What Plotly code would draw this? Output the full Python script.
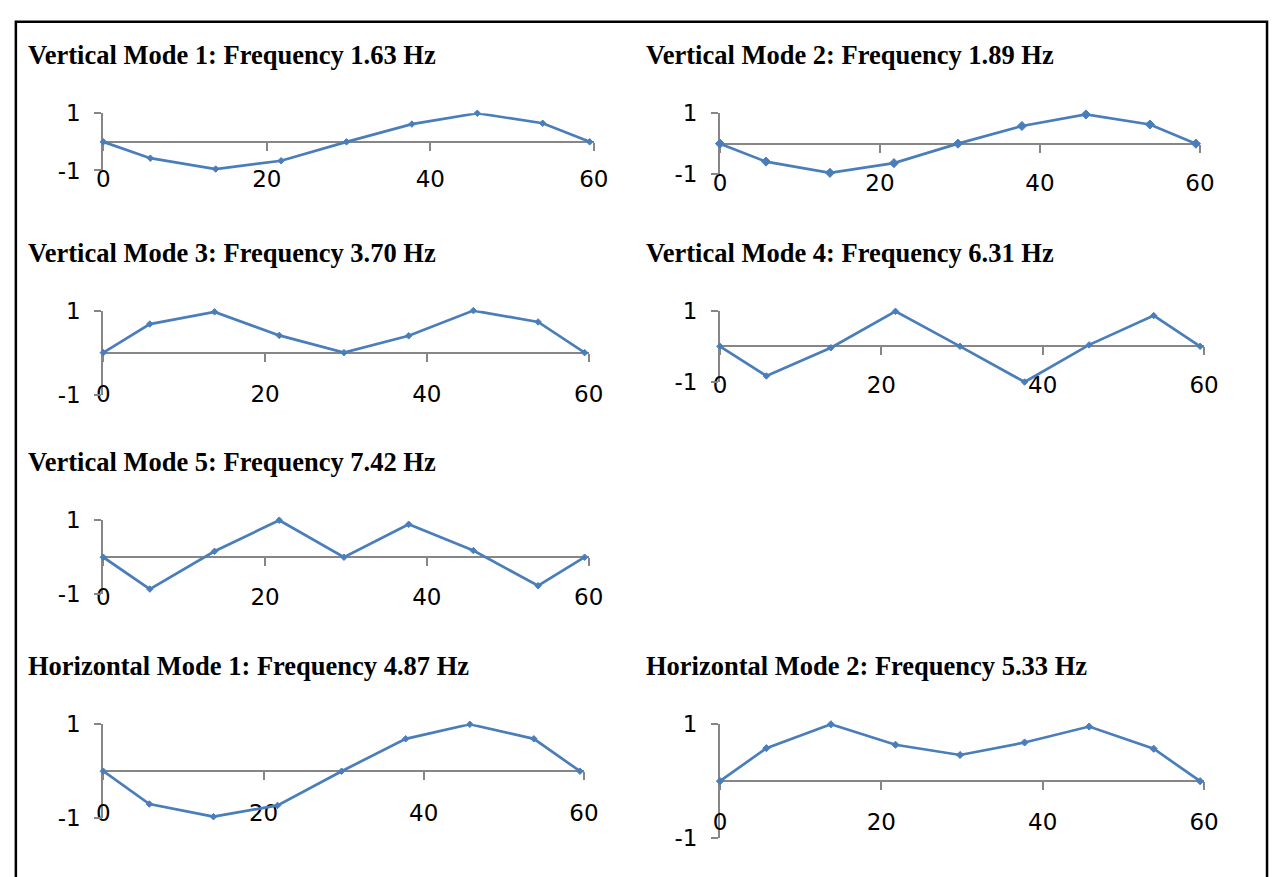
import plotly.graph_objects as go

# ---------------- data ----------------
positions_m = [0, 5.75, 13.75, 21.75, 29.75, 37.75, 45.75, 53.75, 59.5]

titles = [
    "Vertical Mode 1: Frequency 1.63 Hz",
    "Vertical Mode 2: Frequency 1.89 Hz",
    "Vertical Mode 3: Frequency 3.70 Hz",
    "Vertical Mode 4: Frequency 6.31 Hz",
    "Vertical Mode 5: Frequency 7.42 Hz",
    "Horizontal Mode 1: Frequency 4.87 Hz",
    "Horizontal Mode 2: Frequency 5.33 Hz",
]

vertical_mode_1 = [0, -0.57, -0.95, -0.66, 0, 0.62, 1.0, 0.65, 0]
vertical_mode_2 = [0, -0.59, -0.96, -0.64, 0, 0.58, 0.96, 0.63, 0]
vertical_mode_3 = [0, 0.68, 0.97, 0.41, 0, 0.40, 1.0, 0.73, 0]
vertical_mode_4 = [0, -0.83, -0.04, 0.98, 0, -1.0, 0.04, 0.86, 0]
vertical_mode_5 = [0, -0.86, 0.16, 1.0, 0, 0.89, 0.18, -0.77, 0]
horizontal_mode_1 = [0, -0.70, -0.97, -0.73, 0, 0.69, 1.0, 0.69, 0]
horizontal_mode_2 = [0, 0.58, 1.0, 0.64, 0.46, 0.68, 0.96, 0.57, 0]

modes = [vertical_mode_1, vertical_mode_2, vertical_mode_3, vertical_mode_4,
         vertical_mode_5, horizontal_mode_1, horizontal_mode_2]

x_ticks = [0, 20, 40, 60]
y_ticks = [-1, 1]
y_tick_labels = ["-1", "1"]

# ---------------- layout (pixel boxes on a 1284x877 canvas) ----------------
W, H = 1284, 877
# (x at 0, x at 60, y at +1, y at -1, x-label centre, title x, title y, marker size)
boxes = [
    (98, 597, 103.3, 162.3, 173, 19, 43, 5),
    (725.4, 1213.7, 103.3, 166, 176.7, 648, 43, 7),
    (98, 591.8, 306.7, 393.3, 393.3, 19, 247, 5),
    (725.4, 1218, 306.7, 380.3, 384, 648, 247, 5),
    (98, 591.8, 522.7, 599, 603, 19, 463, 5),
    (98, 587, 733, 829.7, 825, 19, 673, 5),
    (725.4, 1218, 733, 850.3, 834.3, 648, 673, 5.5),
]

BLUE = "#4A7EBB"
GRAY = "#868686"
TICK_FONT = dict(family="DejaVu Sans, sans-serif", size=23, color="black")
TITLE_FONT = dict(family="Liberation Serif, Times New Roman, serif", size=26.5, color="black")
XTICKLEN = 8
YTICKLEN = 7

fig = go.Figure()
annotations = []
layout_axes = {}

for i, (vals, box, title) in enumerate(zip(modes, boxes, titles), start=1):
    x0, x1, ytop, ybot, lab_c, tx, ty, msize = box
    sfx = "" if i == 1 else str(i)
    fig.add_trace(go.Scatter(
        x=positions_m, y=vals,
        xaxis="x" + sfx, yaxis="y" + sfx,
        mode="lines+markers",
        line=dict(color=BLUE, width=2.7),
        marker=dict(symbol="diamond", size=msize, color=BLUE,
                    line=dict(color=BLUE, width=1)),
        cliponaxis=False, showlegend=False, hoverinfo="x+y",
    ))
    zero_px = (ytop + ybot) / 2
    standoff = int(round(max(0, lab_c - zero_px - XTICKLEN - 0.62 * TICK_FONT["size"] - 8.5)))
    layout_axes["xaxis" + sfx] = dict(
        domain=[x0 / W, x1 / W], range=[0, 60], anchor="free",
        position=1 - zero_px / H,
        showline=True, linecolor=GRAY, linewidth=2,
        ticks="outside", ticklen=XTICKLEN, tickcolor=GRAY, tickwidth=1.5,
        tickvals=x_ticks, tickfont=TICK_FONT, ticklabelstandoff=standoff,
        showgrid=False, zeroline=False, layer="below traces", fixedrange=True,
    )
    layout_axes["yaxis" + sfx] = dict(
        domain=[1 - ybot / H, 1 - ytop / H], range=[-1, 1], anchor="x" + sfx,
        showline=True, linecolor=GRAY, linewidth=2,
        ticks="outside", ticklen=YTICKLEN, tickcolor=GRAY, tickwidth=1.5,
        tickvals=y_ticks, ticktext=y_tick_labels, tickfont=TICK_FONT,
        ticklabelstandoff=9,
        showgrid=False, zeroline=False, layer="below traces", fixedrange=True,
    )
    annotations.append(dict(
        text="<b>" + title + "</b>", xref="paper", yref="paper",
        x=tx / W, y=1 - ty / H, xanchor="left", yanchor="middle",
        showarrow=False, font=TITLE_FONT,
    ))

fig.update_layout(
    autosize=True,
    margin=dict(l=0, r=0, t=0, b=0),
    paper_bgcolor="white", plot_bgcolor="white",
    annotations=annotations,
    shapes=[dict(type="rect", xref="paper", yref="paper",
                 x0=9 / W, x1=1282 / W, y0=-0.05, y1=1 - 9 / H,
                 line=dict(color="black", width=2.5))],
    **layout_axes,
)

fig.write_html(
    "out.html",
    default_width="100vw",
    default_height="100vh",
    config={"responsive": True, "displayModeBar": False},
    post_script="document.body.style.margin='0';document.body.style.overflow='hidden';",
)
